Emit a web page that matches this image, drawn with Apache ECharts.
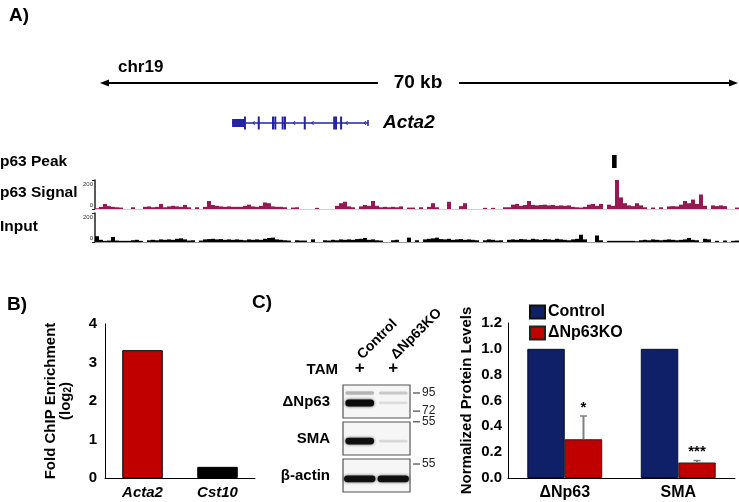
<!DOCTYPE html>
<html><head><meta charset="utf-8">
<script src="https://cdn.jsdelivr.net/npm/echarts@6/dist/echarts.min.js"></script>
<style>html,body{margin:0;padding:0;background:#fff}#c{width:739px;height:502px}</style>
</head><body><div id="c"></div>
<script>
const FONT = '"Liberation Sans", Arial, sans-serif';
// ---------- Panel A data ----------
const regionKb = [0, 70];            // genomic window (70 kb)
const geneSpan = [14.9, 29.7];       // Acta2 gene body (kb)
const geneUtr = [14.9, 16.3];        // thick first block
const geneExons = [16.3, 17.8, 19.35, 19.6, 20.4, 20.65, 22.8, 26.0, 26.2, 26.75];
const geneStrand = [17.2, 21.6, 23.6, 27.3, 29.3];
const peakRegion = [56.2, 56.7];
const trackTicks = [0, 200];
const signalValues = [5,15,35,20,15,12,10,0,0,12,0,0,15,18,12,15,35,12,18,22,18,15,28,12,0,12,0,15,55,28,22,18,15,18,15,15,15,22,30,18,15,22,45,40,18,15,15,12,0,10,12,0,0,0,0,8,0,0,0,0,22,40,50,18,12,0,18,28,22,55,22,12,15,12,15,12,18,0,10,10,0,12,0,15,40,12,0,0,50,0,0,20,40,0,0,0,0,8,0,8,0,0,12,12,30,35,22,28,55,28,25,28,30,25,28,22,25,22,25,15,12,10,15,30,35,22,35,0,30,22,200,80,40,25,20,40,25,12,0,10,0,12,0,18,20,18,30,55,40,65,35,100,22,0,25,20,25,20,0,0,10];
const inputValues = [40,15,8,10,35,10,8,8,8,12,15,8,0,12,15,12,18,15,18,15,22,25,18,10,12,0,10,18,20,22,18,20,15,18,15,18,15,12,18,15,18,15,22,28,30,18,15,12,10,0,12,10,10,0,18,0,0,12,10,15,12,18,15,18,15,20,22,28,15,18,12,10,0,0,12,15,0,0,30,0,12,0,18,22,25,30,20,18,22,15,18,20,15,18,15,12,0,12,18,15,10,12,0,15,18,15,20,18,15,22,18,15,20,18,15,22,18,15,12,18,22,50,18,0,0,45,12,0,8,8,8,8,8,8,8,5,12,15,12,18,15,12,15,18,15,12,15,18,28,15,12,0,22,18,0,8,0,10,0,8,10];
// ---------- Panel B data ----------
const bCategories = ['Acta2', 'Cst10'];
const bValues = [3.32, 0.29];
const bColors = ['#c00000', '#000000'];
// ---------- Panel C data ----------
const blotRows = ['\u0394Np63', 'SMA', '\u03b2-actin'];
const blotLanes = ['Control', '\u0394Np63KO'];
const tam = ['+', '+'];
const bandLane = [0, 0, 1, 1, 0, 1, 0, 1];
const bandRow = [0, 0, 0, 0, 1, 1, 2, 2];
const bandMigration = [0.27, 0.54, 0.27, 0.54, 0.57, 0.57, 0.59, 0.59];
const bandIntensity = [0.22, 1.0, 0.14, 0.06, 0.95, 0.08, 0.95, 0.95];
const mwRow = [0, 0, 1, 2];
const mwMigration = [0.27, 0.76, 0.05, 0.19];
const mwLabel = ['95', '72', '55', '55'];
const cCategories = ['\u0394Np63', 'SMA'];
const controlValues = [1.0, 1.0];
const koValues = [0.30, 0.12];
const koErr = [0.18, 0.015];
const koStars = ['*', '***'];
const cTicks = [0, 1.2, 0.2];

const GENE = '#2323a3';
const SIG = '#961a52';
const NAVY = '#0f1f68';
const RED = '#c00000';
const binCats = signalValues.map((_, i) => String(i));

const chart = echarts.init(document.getElementById('c'), null, {renderer: 'canvas'});
const bold = (s, extra) => Object.assign({fontFamily: FONT, fontWeight: 'bold', fontSize: s, color: '#000'}, extra || {});
const hiddenAxis = (o) => Object.assign({show: false}, o);
const trackY = (gi) => ({type: 'value', gridIndex: gi, min: trackTicks[0], max: trackTicks[1], interval: trackTicks[1], splitLine: {show: false},
  axisLine: {show: true, lineStyle: {color: '#222', width: 1.5}}, axisTick: {show: true, length: 3, lineStyle: {color: '#222'}},
  axisLabel: {margin: 2, formatter: v => v > 0 ? '{t|' + v + '}' : '{b|' + v + '}',
    rich: {t: {fontSize: 6, color: '#333', fontFamily: FONT, padding: [9, 0, 0, 0]}, b: {fontSize: 6, color: '#333', fontFamily: FONT, padding: [0, 0, 7, 0]}}}});

const option = {
  animation: false,
  backgroundColor: '#fff',
  textStyle: {fontFamily: FONT},
  grid: [
    {left: 95, width: 644, top: 110, height: 26},   // 0 gene
    {left: 95, width: 644, top: 155, height: 13},   // 1 peak
    {left: 95, width: 644, top: 180, height: 29},   // 2 signal
    {left: 95, width: 644, top: 213, height: 29},   // 3 input
    {left: 105, width: 150, top: 324, height: 154}, // 4 panel B
    {left: 343, width: 67, top: 383, height: 111},  // 5 blot
    {left: 508, width: 227, top: 323, height: 155}  // 6 panel C
  ],
  xAxis: [
    hiddenAxis({type: 'value', gridIndex: 0, min: regionKb[0], max: regionKb[1]}),
    hiddenAxis({type: 'value', gridIndex: 1, min: regionKb[0], max: regionKb[1]}),
    {type: 'category', gridIndex: 2, data: binCats, axisLabel: {show: false}, axisTick: {show: false},
      axisLine: {show: true, lineStyle: {color: '#e7c3d3', width: 1}}},
    {type: 'category', gridIndex: 3, data: binCats, axisLabel: {show: false}, axisTick: {show: false},
      axisLine: {show: true, lineStyle: {color: '#9a9a9a', width: 1}}},
    {type: 'category', gridIndex: 4, data: bCategories, axisTick: {show: false},
      axisLine: {lineStyle: {color: '#000', width: 1}},
      axisLabel: bold(15, {fontStyle: 'italic', margin: 7})},
    hiddenAxis({type: 'value', gridIndex: 5, min: 0, max: 2, position: 'bottom'}),
    {type: 'category', gridIndex: 5, position: 'top', data: tam, axisLine: {show: false}, axisTick: {show: false},
      axisLabel: bold(17, {margin: 6})},
    {type: 'category', gridIndex: 5, position: 'top', offset: 24, data: blotLanes, axisLine: {show: false}, axisTick: {show: false},
      axisLabel: bold(14, {rotate: -45, margin: 2})},
    {type: 'category', gridIndex: 6, data: cCategories, axisTick: {show: false},
      axisLine: {lineStyle: {color: '#000', width: 1}},
      axisLabel: bold(16, {margin: 7})}
  ],
  yAxis: [
    hiddenAxis({type: 'value', gridIndex: 0, min: 0, max: 1}),
    hiddenAxis({type: 'value', gridIndex: 1, min: 0, max: 1}),
    trackY(2),
    trackY(3),
    {type: 'value', gridIndex: 4, min: 0, max: 4, interval: 1, splitLine: {show: false},
      axisLine: {show: true, lineStyle: {color: '#000', width: 1}}, axisTick: {show: false},
      axisLabel: bold(15, {margin: 8}),
      name: '{a|Fold ChIP Enrichment}\n{a|(log}{s|2}{a|)}', nameLocation: 'middle', nameRotate: 90, nameGap: 32,
      nameTextStyle: {rich: {a: bold(15, {lineHeight: 15}), s: bold(10, {lineHeight: 15, verticalAlign: 'bottom', padding: [6, 0, 0, 0]})}}},
    hiddenAxis({type: 'value', gridIndex: 5, min: 0, max: 3, inverse: true, position: 'right'}),
    {type: 'category', gridIndex: 5, data: blotRows, inverse: true, position: 'left', axisLine: {show: false}, axisTick: {show: false},
      axisLabel: bold(15, {margin: 13})},
    {type: 'value', gridIndex: 6, min: cTicks[0], max: cTicks[1], interval: cTicks[2], splitLine: {show: false},
      axisLine: {show: true, lineStyle: {color: '#000', width: 1}}, axisTick: {show: false},
      axisLabel: bold(15, {margin: 6, formatter: v => v.toFixed(1)}),
      name: 'Normalized Protein Levels', nameLocation: 'middle', nameRotate: 90, nameGap: 34,
      nameTextStyle: bold(15, {padding: [0, 0, 0, 0]})}
  ],
  legend: {
    data: ['Control', '\u0394Np63KO'], left: 524, top: 299, orient: 'vertical', itemGap: 5,
    itemWidth: 15, itemHeight: 13, icon: 'rect', textStyle: bold(16, {padding: [0, 0, 0, -2]})
  },
  series: [
    { // gene model
      type: 'custom', xAxisIndex: 0, yAxisIndex: 0, data: [[geneSpan[0], 0.5]], silent: true,
      renderItem: function (params, api) {
        const y = api.coord([0, 0.5])[1];
        const X = k => api.coord([k, 0.5])[0];
        const ch = [];
        ch.push({type: 'line', shape: {x1: X(geneSpan[0]), y1: y, x2: X(geneSpan[1]), y2: y}, style: {stroke: GENE, lineWidth: 1.5}});
        ch.push({type: 'rect', shape: {x: X(geneUtr[0]), y: y - 4, width: X(geneUtr[1]) - X(geneUtr[0]), height: 8}, style: {fill: GENE}});
        geneExons.forEach(k => ch.push({type: 'rect', shape: {x: X(k) - 1, y: y - 6.5, width: 2, height: 13}, style: {fill: GENE}}));
        geneStrand.forEach(k => ch.push({type: 'polyline', shape: {points: [[X(k) + 1.5, y - 2], [X(k) - 0.5, y], [X(k) + 1.5, y + 2]]}, style: {stroke: GENE, lineWidth: 1, fill: null}}));
        ch.push({type: 'rect', shape: {x: X(geneSpan[1]) - 1, y: y - 3, width: 1.5, height: 6}, style: {fill: GENE}});
        return {type: 'group', children: ch};
      }
    },
    { // p63 peak
      type: 'custom', xAxisIndex: 1, yAxisIndex: 1, data: [[peakRegion[0], peakRegion[1]]], silent: true,
      renderItem: function (params, api) {
        const a = api.coord([api.value(0), 1]), b = api.coord([api.value(1), 0]);
        return {type: 'rect', shape: {x: a[0], y: a[1], width: b[0] - a[0], height: b[1] - a[1]}, style: {fill: '#000'}};
      }
    },
    {type: 'bar', xAxisIndex: 2, yAxisIndex: 2, data: signalValues, barCategoryGap: '0%', itemStyle: {color: SIG}, silent: true},
    {type: 'bar', xAxisIndex: 3, yAxisIndex: 3, data: inputValues, barCategoryGap: '0%', itemStyle: {color: '#000'}, silent: true},
    { // panel B
      type: 'bar', xAxisIndex: 4, yAxisIndex: 4, barWidth: '54%',
      data: bValues.map((v, i) => ({value: v, itemStyle: {color: bColors[i]}})),
      itemStyle: {borderColor: '#000', borderWidth: 1}
    },
    { // western blot
      type: 'custom', xAxisIndex: 5, yAxisIndex: 5, data: [[0, 0]], silent: true,
      renderItem: function (params, api) {
        const ch = [];
        const left = api.coord([0, 0])[0], right = api.coord([2, 0])[0];
        const laneW = api.size([1, 0])[0];
        blotRows.forEach((r, i) => {
          const t = api.coord([0, i])[1] + 2, b = api.coord([0, i + 1])[1] - 2;
          ch.push({type: 'rect', shape: {x: left, y: t, width: right - left, height: b - t},
            style: {fill: '#f6f6f6', stroke: '#555', lineWidth: 1.2}});
        });
        bandLane.forEach((ln, i) => {
          const cx = api.coord([ln + 0.5, 0])[0];
          const cy = api.coord([0, bandRow[i] + bandMigration[i]])[1];
          const a = bandIntensity[i];
          const h = 2.5 + 4.5 * a;
          const w = laneW * (bandRow[i] === 2 ? 0.94 : 0.86);
          ch.push({type: 'rect', shape: {x: cx - w / 2, y: cy - h / 2, width: w, height: h, r: h / 2},
            style: {fill: 'rgba(12,12,12,' + Math.min(1, a * 0.95 + 0.05) + ')', shadowBlur: 3, shadowColor: 'rgba(0,0,0,' + (a * 0.7) + ')'}});
        });
        mwRow.forEach((r, i) => {
          const y = api.coord([0, r + mwMigration[i]])[1];
          ch.push({type: 'line', shape: {x1: right + 3, y1: y, x2: right + 10, y2: y}, style: {stroke: '#222', lineWidth: 1}});
          ch.push({type: 'text', style: {text: mwLabel[i], x: right + 12, y: y, textVerticalAlign: 'middle', font: '12px ' + FONT, fill: '#222'}});
        });
        return {type: 'group', children: ch};
      }
    },
    { // panel C control
      name: 'Control', type: 'bar', xAxisIndex: 8, yAxisIndex: 7, data: controlValues, barWidth: '33%', barGap: '0%',
      itemStyle: {color: NAVY, borderColor: '#111', borderWidth: 1}
    },
    {
      name: '\u0394Np63KO', type: 'bar', xAxisIndex: 8, yAxisIndex: 7, data: koValues, barWidth: '33%', barGap: '0%',
      itemStyle: {color: RED, borderColor: '#222', borderWidth: 1}
    },
    { // error bars + stars
      type: 'custom', xAxisIndex: 8, yAxisIndex: 7, silent: true, z: 5,
      data: koValues.map((v, i) => [i, v, v + koErr[i]]),
      renderItem: function (params, api) {
        const bw = api.size([1, 0])[0];
        const base = api.coord([api.value(0), api.value(1)]);
        const top = api.coord([api.value(0), api.value(2)]);
        const x = base[0] + bw * 0.165;
        return {type: 'group', children: [
          {type: 'line', shape: {x1: x, y1: base[1], x2: x, y2: top[1]}, style: {stroke: '#808080', lineWidth: 2}},
          {type: 'line', shape: {x1: x - 3.5, y1: top[1], x2: x + 3.5, y2: top[1]}, style: {stroke: '#808080', lineWidth: 1.5}},
          {type: 'text', style: {text: koStars[params.dataIndex], x: x, y: top[1] - 1, textAlign: 'center', textVerticalAlign: 'bottom', font: 'bold 15px ' + FONT, fill: '#000'}}
        ]};
      }
    }
  ],
  graphic: [
    {type: 'text', left: 9, top: 6, style: {text: 'A)', font: 'bold 19px ' + FONT, fill: '#000'}},
    {type: 'text', x: 118, y: 67, style: {text: 'chr19', font: 'bold 17px ' + FONT, fill: '#000', textVerticalAlign: 'middle'}},
    {type: 'line', shape: {x1: 104, y1: 83, x2: 378, y2: 83}, style: {stroke: '#000', lineWidth: 2}},
    {type: 'polygon', shape: {points: [[100, 83], [109, 79.5], [109, 86.5]]}, style: {fill: '#000'}},
    {type: 'line', shape: {x1: 459, y1: 83, x2: 733, y2: 83}, style: {stroke: '#000', lineWidth: 2}},
    {type: 'polygon', shape: {points: [[738, 83], [729, 79.5], [729, 86.5]]}, style: {fill: '#000'}},
    {type: 'text', x: 418, y: 83, style: {text: '70 kb', font: 'bold 19px ' + FONT, fill: '#000', textAlign: 'center', textVerticalAlign: 'middle'}},
    {type: 'text', x: 383, y: 123, style: {text: 'Acta2', font: 'italic bold 19px ' + FONT, fill: '#000', textVerticalAlign: 'middle'}},
    {type: 'text', x: 0, y: 162, style: {text: 'p63 Peak', font: 'bold 15.5px ' + FONT, fill: '#000', textVerticalAlign: 'middle'}},
    {type: 'text', x: 0, y: 193, style: {text: 'p63 Signal', font: 'bold 15.5px ' + FONT, fill: '#000', textVerticalAlign: 'middle'}},
    {type: 'text', x: 0, y: 227, style: {text: 'Input', font: 'bold 15.5px ' + FONT, fill: '#000', textVerticalAlign: 'middle'}},
    {type: 'text', x: 7, y: 305, style: {text: 'B)', font: 'bold 19px ' + FONT, fill: '#000', textVerticalAlign: 'middle'}},
    {type: 'text', x: 252, y: 303, style: {text: 'C)', font: 'bold 19px ' + FONT, fill: '#000', textVerticalAlign: 'middle'}},
    {type: 'text', x: 338, y: 370, style: {text: 'TAM', font: 'bold 15px ' + FONT, fill: '#000', textAlign: 'right', textVerticalAlign: 'middle'}}
  ]
};
chart.setOption(option);
</script>
</body></html>
